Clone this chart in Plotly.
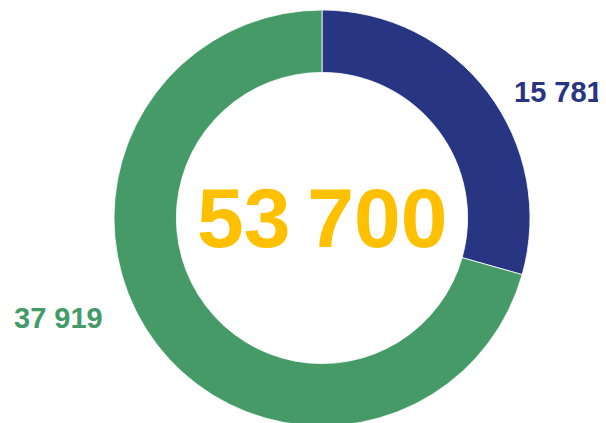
import plotly.graph_objects as go

labels = ["Série A", "Série B"]
values = [15781, 37919]
colors = ["#283583", "#459A68"]
value_labels = ["15 781", "37 919"]
total_label = "53\u2009700"

W, H = 606, 423
OFF = 8  # page body margin
cx, cy, r = 322 - OFF, 218 - OFF, 208  # pixels in figure (cy from top)

fig = go.Figure(go.Pie(
    labels=labels,
    values=values,
    hole=0.70,
    sort=False,
    direction="clockwise",
    rotation=0,
    textinfo="none",
    hoverinfo="label+value",
    marker=dict(colors=colors, line=dict(color="white", width=0.8)),
    domain=dict(x=[(cx - r) / W, (cx + r) / W], y=[(H - cy - r) / H, (H - cy + r) / H]),
    showlegend=False,
))

font = "Liberation Sans, Arial, sans-serif"

def px(x, y):
    return (x - OFF) / W, 1 - (y - OFF) / H

x1, y1 = px(558, 92)
fig.add_annotation(x=x1, y=y1, xref="paper", yref="paper",
                   text="<b>%s</b>" % value_labels[0], showarrow=False,
                   font=dict(family=font, size=29, color=colors[0]),
                   xanchor="center", yanchor="middle")
x2, y2 = px(58.5, 318)
fig.add_annotation(x=x2, y=y2, xref="paper", yref="paper",
                   text="<b>%s</b>" % value_labels[1], showarrow=False,
                   font=dict(family=font, size=29, color=colors[1]),
                   xanchor="center", yanchor="middle")
x3, y3 = px(321.5, 218)
fig.add_annotation(x=x3, y=y3, xref="paper", yref="paper",
                   text="<b>%s</b>" % total_label, showarrow=False,
                   font=dict(family=font, size=84, color="#FFC000"),
                   xanchor="center", yanchor="middle")

fig.update_layout(width=W, height=H, margin=dict(l=0, r=0, t=0, b=0),
                  paper_bgcolor="white", plot_bgcolor="white")
fig.write_html("out.html")
